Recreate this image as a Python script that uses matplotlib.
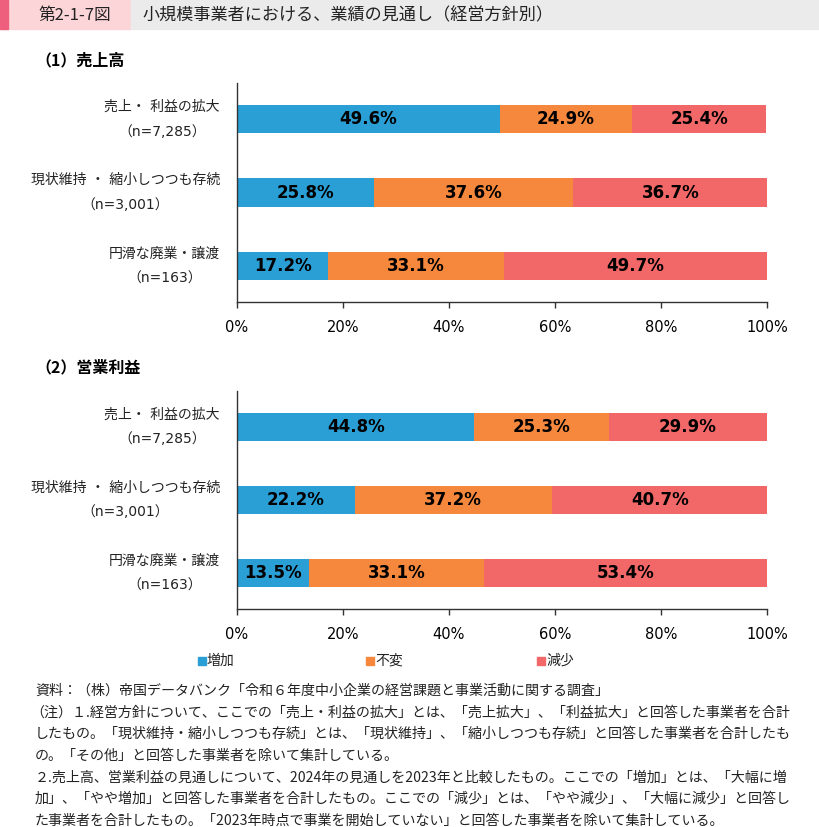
import matplotlib.pyplot as plt
from matplotlib.patches import Rectangle

plt.rcParams['font.family'] = ['DejaVu Sans', 'Noto Sans CJK JP']

# data
categories = ['売上・ 利益の拡大\n（n=7,285）',
              '現状維持 ・ 縮小しつつも存続\n（n=3,001）',
              '円滑な廃業・譲渡\n（n=163）']
series_names = ['増加', '不変', '減少']
sales = {
    '増加': [49.6, 25.8, 17.2],
    '不変': [24.9, 37.6, 33.1],
    '減少': [25.4, 36.7, 49.7],
}
profit = {
    '増加': [44.8, 22.2, 13.5],
    '不変': [25.3, 37.2, 33.1],
    '減少': [29.9, 40.7, 53.4],
}
xticks = [0, 20, 40, 60, 80, 100]
xtick_labels = ['0%', '20%', '40%', '60%', '80%', '100%']
notes = [
    '資料：（株）帝国データバンク「令和６年度中小企業の経営課題と事業活動に関する調査」',
    '（注）１.経営方針について、ここでの「売上・利益の拡大」とは、「売上拡大」、「利益拡大」と回答した事業者を合計',
    'したもの。「現状維持・縮小しつつも存続」とは、「現状維持」、「縮小しつつも存続」と回答した事業者を合計したも',
    'の。「その他」と回答した事業者を除いて集計している。',
    '２.売上高、営業利益の見通しについて、2024年の見通しを2023年と比較したもの。ここでの「増加」とは、「大幅に増',
    '加」、「やや増加」と回答した事業者を合計したもの。ここでの「減少」とは、「やや減少」、「大幅に減少」と回答し',
    'た事業者を合計したもの。「2023年時点で事業を開始していない」と回答した事業者を除いて集計している。',
]

colors = {'増加': '#2A9FD6', '不変': '#F5883D', '減少': '#F26767'}

W, H = 820, 827
fig = plt.figure(figsize=(W / 100, H / 100), dpi=100)


def fx(x):
    return x / W


def fy(y):
    return 1 - y / H


# header band
fig.patches.append(Rectangle((0, fy(29)), fx(131), 29 / H, transform=fig.transFigure,
                             color='#FCD5D9', zorder=0))
fig.patches.append(Rectangle((0, fy(29)), fx(8), 29 / H, transform=fig.transFigure,
                             color='#EE5F7D', zorder=1))
fig.patches.append(Rectangle((fx(131), fy(29)), fx(W - 131), 29 / H, transform=fig.transFigure,
                             color='#EBEBEB', zorder=0))
fig.text(fx(75), fy(15), '第2-1-7図', ha='center', va='center', fontsize=12,
         family=['Noto Sans CJK JP'], color='#222222')
fig.text(fx(143), fy(15), '小規模事業者における、業績の見通し（経営方針別）', ha='left', va='center',
         fontsize=12.3, family=['Noto Sans CJK JP'], color='#222222')


def draw_panel(top, bottom, data, subtitle, sub_y):
    fig.text(fx(35), fy(sub_y), subtitle, ha='left', va='center', fontsize=11.5,
             fontweight='bold', family=['Noto Sans CJK JP'])
    ax = fig.add_axes([fx(237), fy(bottom), fx(767) - fx(237), (bottom - top) / H])
    pos = list(range(len(categories)))
    left = [0] * len(categories)
    for name in series_names:
        vals = data[name]
        ax.barh(pos, vals, left=left, height=0.39, color=colors[name], label=name)
        for p, l, v in zip(pos, left, vals):
            ax.text(l + v / 2, p, f'{v:.1f}%', ha='center', va='center', fontsize=12,
                    fontweight='bold', color='black')
        left = [a + b for a, b in zip(left, vals)]
    ax.set_xlim(0, 100)
    ax.set_ylim(2.49, -0.49)
    ax.set_xticks(xticks)
    ax.set_xticklabels(xtick_labels, fontsize=10.5)
    ax.tick_params(axis='x', length=4, width=1, color='#333333', pad=9)
    ax.set_yticks([])
    for s in ['top', 'right']:
        ax.spines[s].set_visible(False)
    for s in ['left', 'bottom']:
        ax.spines[s].set_color('#333333')
        ax.spines[s].set_linewidth(1)
    # category labels, centred lines, right edge at x=220px
    for p, c in zip(pos, categories):
        ax.text(-17 / 530 * 100, p, c, ha='right', va='center', fontsize=10,
                multialignment='center', linespacing=2.0, color='#222222')
    return ax


draw_panel(83, 302, sales, '（1）売上高', 60)
draw_panel(391, 609, profit, '（2）営業利益', 367)

# legend
for name, x in zip(series_names, [198, 366, 537]):
    fig.patches.append(Rectangle((fx(x), fy(665)), fx(8), 8 / H, transform=fig.transFigure,
                                 color=colors[name]))
    fig.text(fx(x + 9), fy(661), name, ha='left', va='center', fontsize=10,
             family=['Noto Sans CJK JP'], color='#222222')

# notes
note_x = [35, 30, 35, 35, 35, 35, 35]
for i, (line, x) in enumerate(zip(notes, note_x)):
    fig.text(fx(x), fy(691 + i * 21.6), line, ha='left', va='center', fontsize=10.1,
             family=['Noto Sans CJK JP'], color='#222222')

fig.savefig('out.png', dpi=100)
